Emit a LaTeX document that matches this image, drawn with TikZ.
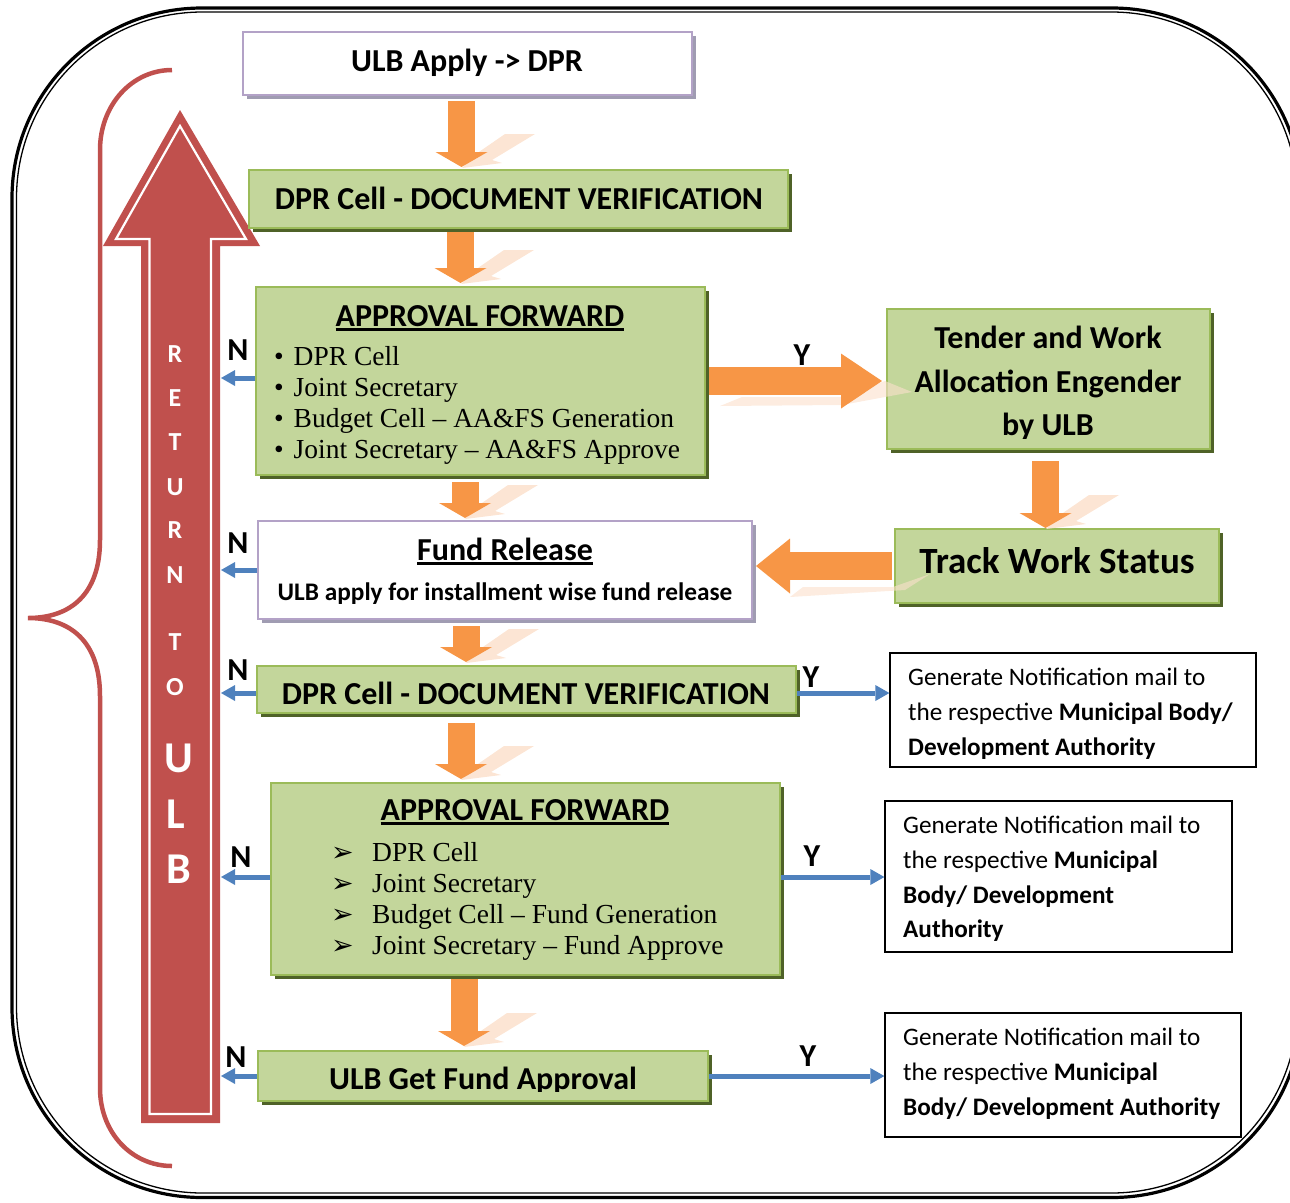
\documentclass[tikz,border=0pt]{standalone}
\usepackage{fontspec}
\setmainfont{Carlito}
\newfontfamily\serifx{Liberation Serif}
\newfontfamily\dejavu{DejaVu Sans}
\usetikzlibrary{arrows.meta,shadows}
\definecolor{gfill}{HTML}{C3D69B}
\definecolor{gline}{HTML}{9BBB59}
\definecolor{gshade}{HTML}{4F6228}
\definecolor{pline}{HTML}{B3A2C7}
\definecolor{pshade}{HTML}{A09CB2}
\definecolor{org}{HTML}{F79646}
\definecolor{orgl}{HTML}{FBE0CC}
\definecolor{blu}{HTML}{4F81BD}
\definecolor{redx}{HTML}{C0504D}
\newcommand\fsz[1]{\fontsize{#1}{#1}\selectfont}
\newcommand\myul[1]{\setbox0\hbox{#1}\rlap{\rule[-5pt]{\wd0}{2.6pt}}\box0}
\newcommand\refl[2]{\fill[orgl,opacity=0.85] (#1,#2) -- ({#1+40},{#2-5}) -- ({#1+30},{#2-8}) -- ({#1+73},{#2-34}) -- ({#1+43},{#2-34}) -- ({#1+14},{#2-14}) -- cycle;}
\begin{document}
\begin{tikzpicture}[x=1pt,y=-1pt,
  gbox/.style={draw=gline,line width=2pt,fill=gfill,inner sep=0pt,
    drop shadow={shadow xshift=4pt,shadow yshift=-4pt,fill=gshade,opacity=1}},
  pbox/.style={draw=pline,line width=2pt,fill=white,inner sep=0pt,
    drop shadow={shadow xshift=4pt,shadow yshift=-4pt,fill=pshade,opacity=1}},
  nbox/.style={draw=black,line width=1.3pt,fill=white,inner sep=0pt},
  txt/.style={inner sep=0pt,anchor=base,font=\bfseries\fsz{32}},
  ntxt/.style={inner sep=0pt,anchor=base west,font=\fsz{25.2}},
  itm/.style={inner sep=0pt,anchor=base west,font=\serifx\fsz{27.5}},
  yn/.style={inner sep=0pt,anchor=base,font=\bfseries\fsz{32}},
  rl/.style={inner sep=0pt,anchor=base,text=white,font=\bfseries\fsz{26}},
  rlb/.style={inner sep=0pt,anchor=base,text=white,font=\bfseries\fsz{44}},
  odown/.style={draw=org,line width=27pt,-{Triangle[width=52pt,length=15pt,line width=0pt]}},
  ohor/.style={draw=org,line width=28pt,-{Triangle[width=55pt,length=#1,line width=0pt]}},
  barrow/.style={draw=blu,line width=5pt,-{Triangle[width=16pt,length=14pt,line width=0pt]}}]
\useasboundingbox (0,0) rectangle (1290,1202);
\clip (0,0) rectangle (1290,1202);
% outer frame
\draw[line width=3.2pt,rounded corners=190pt] (12,8) rectangle (1302,1197.5);
\draw[line width=1.3pt,rounded corners=186pt] (16.5,12) rectangle (1297.5,1193);
% brace
\draw[redx,line width=4.5pt] (172,70) .. controls (132,70) and (100,105) .. (100,150) -- (100,540)
  .. controls (100,595) and (70,618) .. (28,618) .. controls (70,618) and (100,641) .. (100,696)
  -- (100,1088) .. controls (100,1133) and (132,1166) .. (172,1166);
% return arrow
\fill[redx] (141,1123) -- (141,246) -- (103,246) -- (180,110) -- (260,246) -- (220,246) -- (220,1123) -- cycle;
\draw[white,line width=2.2pt] (149.5,1114) -- (149.5,239) -- (116,239) -- (180,126) -- (246,239) -- (211,239) -- (211,1114) -- cycle;
\node[rl] (r1) at (175,362) {R};
\node[rl] (r2) at (175,406) {E};
\node[rl] (r3) at (175,450) {T};
\node[rl] (r4) at (175,495) {U};
\node[rl] (r5) at (175,538) {R};
\node[rl] (r6) at (175,583) {N};
\node[rl] (r7) at (175,650) {T};
\node[rl] (r8) at (175,695) {O};
\node[rlb] (r9) at (179,772) {U};
\node[rlb] (r10) at (176,828) {L};
\node[rlb] (r11) at (179,883) {B};
% boxes
\node[pbox,minimum width=449pt,minimum height=63pt] (b1) at (467.5,63.5) {};
\node[gbox,minimum width=539pt,minimum height=58pt] (b2) at (518.5,199) {};
\node[gbox,minimum width=449pt,minimum height=188pt] (b3) at (480.5,381) {};
\node[gbox,minimum width=323pt,minimum height=140pt] (b4) at (1048.5,379) {};
\node[gbox,minimum width=324pt,minimum height=74pt] (b5) at (1057,566) {};
\node[pbox,minimum width=494pt,minimum height=98pt] (b6) at (505,570) {};
\node[gbox,minimum width=539pt,minimum height=47pt] (b7) at (526.5,689.5) {};
\node[gbox,minimum width=509pt,minimum height=192pt] (b8) at (525.5,879) {};
\node[gbox,minimum width=450pt,minimum height=50pt] (b9) at (483,1076) {};
\node[nbox,minimum width=366pt,minimum height=114pt] (n1) at (1073,710) {};
\node[nbox,minimum width=347pt,minimum height=151pt] (n2) at (1058.5,876.5) {};
\node[nbox,minimum width=356pt,minimum height=124pt] (n3) at (1063,1075) {};
% box texts
\node[txt] (t1) at (467,71.7) {ULB Apply -> DPR};
\node[txt] (t2) at (519,209) {DPR Cell - DOCUMENT VERIFICATION};
\node[txt] (t3) at (480,326) {\myul{APPROVAL FORWARD}};
\node[itm] (t3a) at (274,365) {\makebox[19.5pt][l]{•}DPR Cell};
\node[itm] (t3b) at (274,396) {\makebox[19.5pt][l]{•}Joint Secretary};
\node[itm] (t3c) at (274,427) {\makebox[19.5pt][l]{•}Budget Cell – AA\&FS Generation};
\node[itm] (t3d) at (274,458) {\makebox[19.5pt][l]{•}Joint Secretary – AA\&FS Approve};
\begin{scope}
\clip (880,300) rectangle (1220,438);
\node[txt] (t4a) at (1048,348) {Tender and Work};
\node[txt] (t4b) at (1048,392) {Allocation Engender};
\node[txt] (t4c) at (1048,435.5) {by ULB};
\end{scope}
\node[txt,font=\bfseries\fsz{37}] (t5) at (1057,573) {Track Work Status};
\node[txt] (t6a) at (505,560) {\myul{Fund Release}};
\node[txt,font=\bfseries\fsz{25.3}] (t6b) at (505,600) {ULB apply for installment wise fund release};
\node[txt] (t7) at (526,704) {DPR Cell - DOCUMENT VERIFICATION};
\node[txt] (t8) at (525,820) {\myul{APPROVAL FORWARD}};
\node[itm] (t8a) at (331,861) {\makebox[41pt][l]{\dejavu\fsz{27}➢}DPR Cell};
\node[itm] (t8b) at (331,892) {\makebox[41pt][l]{\dejavu\fsz{27}➢}Joint Secretary};
\node[itm] (t8c) at (331,923) {\makebox[41pt][l]{\dejavu\fsz{27}➢}Budget Cell – Fund Generation};
\node[itm] (t8d) at (331,954) {\makebox[41pt][l]{\dejavu\fsz{27}➢}Joint Secretary – Fund Approve};
\begin{scope}
\clip (250,1040) rectangle (720,1091);
\node[txt] (t9) at (483,1089) {ULB Get Fund Approval};
\end{scope}
\node[ntxt] (m1a) at (908,685) {Generate Notification mail to};
\node[ntxt] (m1b) at (908,720) {the respective \textbf{Municipal Body/}};
\node[ntxt] (m1c) at (908,755) {\textbf{Development Authority}};
\node[ntxt] (m2a) at (903,833) {Generate Notification mail to};
\node[ntxt] (m2b) at (903,868) {the respective \textbf{Municipal}};
\node[ntxt] (m2c) at (903,903) {\textbf{Body/ Development}};
\node[ntxt] (m2d) at (903,937) {\textbf{Authority}};
\node[ntxt] (m3a) at (903,1045) {Generate Notification mail to};
\node[ntxt] (m3b) at (903,1080) {the respective \textbf{Municipal}};
\node[ntxt] (m3c) at (903,1115) {\textbf{Body/ Development Authority}};
% reflections
\refl{462}{168}
\refl{461}{284}
\refl{465}{519}
\refl{466}{663}
\refl{461}{780}
\refl{464}{1047}
\refl{1046}{529}
\fill[orgl,opacity=0.6] (720,406) -- (742,397) -- (842,397) -- (885,381) -- (912,392) -- (842,405) -- cycle;
\fill[orgl,opacity=0.6] (790,597) -- (803,587) -- (893,587) -- (930,574) -- (905,590) -- cycle;
% orange flow arrows
\coordinate (xa) at (461.5,0);
\coordinate (xb) at (460.5,0);
\coordinate (xc) at (465,0);
\coordinate (xd) at (466,0);
\coordinate (xe) at (461,0);
\coordinate (xf) at (464,0);
\coordinate (xg) at (1045.5,0);
\draw[odown,shorten <=5pt,shorten >=2pt] (xa |- b1.south) -- (xa |- b2.north);
\draw[odown,shorten <=3pt,shorten >=3pt] (xb |- b2.south) -- (xb |- b3.north);
\draw[odown,shorten <=6pt,shorten >=2pt] (xc |- b3.south) -- (xc |- b6.north);
\draw[odown,shorten <=6pt,shorten >=3pt] (xd |- b6.south) -- (xd |- b7.north);
\draw[odown,shorten <=9pt,shorten >=3pt] (xe |- b7.south) -- (xe |- b8.north);
\draw[odown,shorten <=3pt,shorten >=4pt] (xf |- b8.south) -- (xf |- b9.north);
\draw[odown,shorten <=11pt,shorten >=0pt] (xg |- b4.south) -- (xg |- b5.north);
\draw[ohor=41pt,shorten <=3pt,shorten >=4pt] (b3.east) -- (b3.east -| b4.west);
\draw[ohor=34pt,shorten <=2pt,shorten >=3pt] (b5.west) -- (b5.west -| b6.east);
% N / Y arrows
\coordinate (rr) at (221,0);
\draw[barrow] ([yshift=3pt]b3.west) -- ([yshift=3pt]b3.west -| rr);
\draw[barrow] (b6.west) -- (b6.west -| rr);
\draw[barrow] ([yshift=-3.5pt]b7.west) -- ([yshift=-3.5pt]b7.west -| rr);
\draw[barrow] ([yshift=2pt]b8.west) -- ([yshift=2pt]b8.west -| rr);
\draw[barrow] (b9.west) -- (b9.west -| rr);
\draw[barrow] ([yshift=-3.5pt]b7.east) -- ([yshift=-3.5pt]b7.east -| n1.west);
\draw[barrow] ([yshift=2pt]b8.east) -- ([yshift=2pt]b8.east -| n2.west);
\draw[barrow] (b9.east) -- (b9.east -| n3.west);
\node[yn] (N1) at (238,360) {N};
\node[yn] (N2) at (238,553) {N};
\node[yn] (N3) at (238,680) {N};
\node[yn] (N4) at (241,867) {N};
\node[yn] (N5) at (236,1067) {N};
\node[yn] (Y1) at (802,365) {Y};
\node[yn] (Y2) at (811,687) {Y};
\node[yn] (Y3) at (812,866) {Y};
\node[yn] (Y4) at (808,1066) {Y};
\end{tikzpicture}
\end{document}
